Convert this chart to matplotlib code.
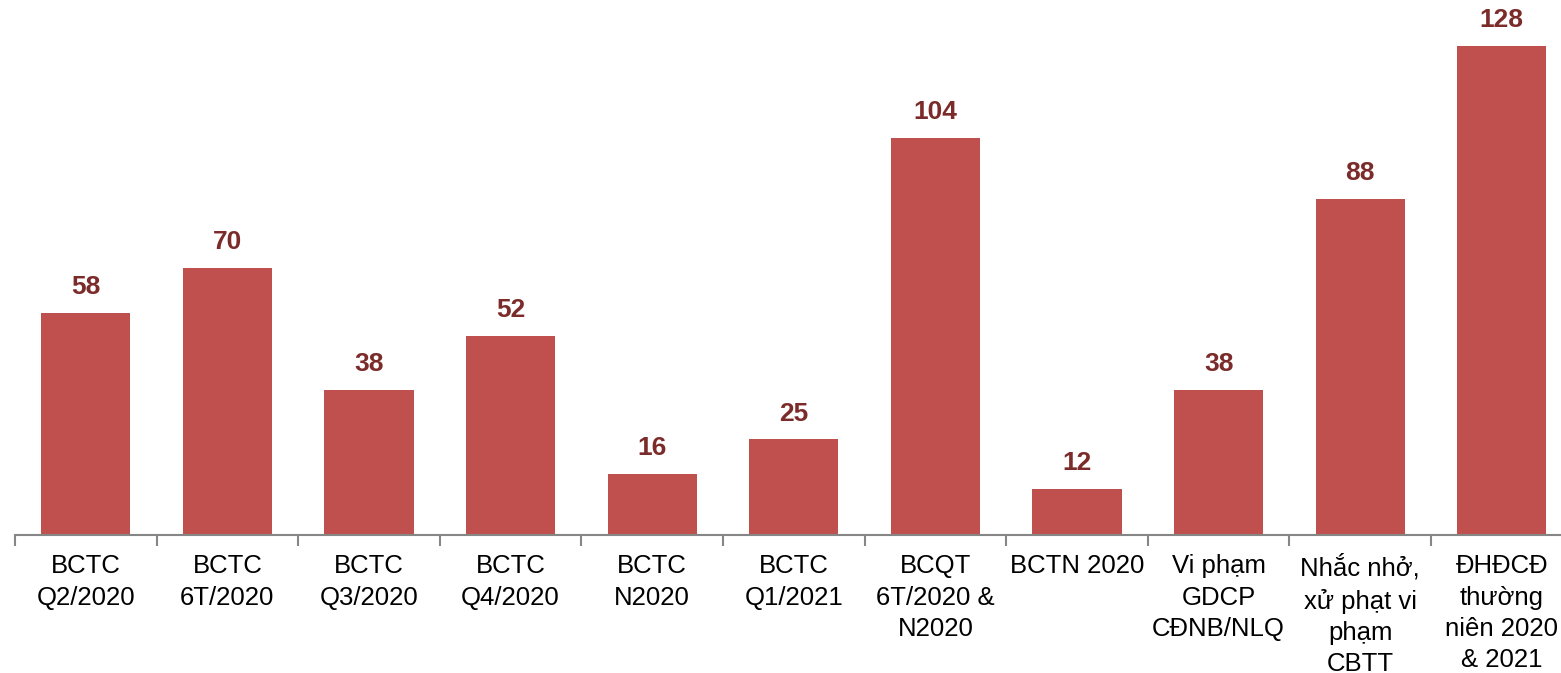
import matplotlib.pyplot as plt
import numpy as np

plt.rcParams['font.family'] = ['Liberation Sans', 'DejaVu Sans']

categories = ["BCTC\nQ2/2020", "BCTC\n6T/2020", "BCTC\nQ3/2020", "BCTC\nQ4/2020",
              "BCTC\nN2020", "BCTC\nQ1/2021", "BCQT\n6T/2020 &\nN2020", "BCTN 2020",
              "Vi phạm\nGDCP\nCĐNB/NLQ", "Nhắc nhở,\nxử phạt vi\nphạm\nCBTT",
              "ĐHĐCĐ\nthường\nniên 2020\n& 2021"]
values = [58, 70, 38, 52, 16, 25, 104, 12, 38, 88, 128]

bar_color = "#C0504D"
label_color = "#7B2C2A"

fig = plt.figure(figsize=(15.61, 6.73), dpi=100)
ax = fig.add_axes([15 / 1561, 138 / 673, 11 * 141.6 / 1561, 535 / 673])

x = np.arange(len(values))
bars = ax.bar(x, values, width=0.63, color=bar_color)

for xi, v in zip(x, values):
    ax.annotate(str(v), (xi, v), xytext=(0, 10), textcoords="offset points",
                ha="center", va="bottom", fontsize=19, fontweight="bold",
                color=label_color)

ax.set_xlim(-0.5, len(values) - 0.5)
ax.set_ylim(0, 140)

for s in ["top", "right", "left"]:
    ax.spines[s].set_visible(False)
ax.spines["bottom"].set_color("#868686")
ax.spines["bottom"].set_linewidth(1.5)
ax.set_yticks([])

ax.set_xticks(x)
ax.set_xticklabels(categories, fontsize=18.5, linespacing=1.38, va="top")
ax.tick_params(axis="x", which="major", length=0, pad=14)
ax.set_xticks(np.arange(-0.5, len(values), 1), minor=True)
ax.tick_params(axis="x", which="minor", length=8, width=1.5, color="#868686")

fig.savefig("out.png", dpi=100)
